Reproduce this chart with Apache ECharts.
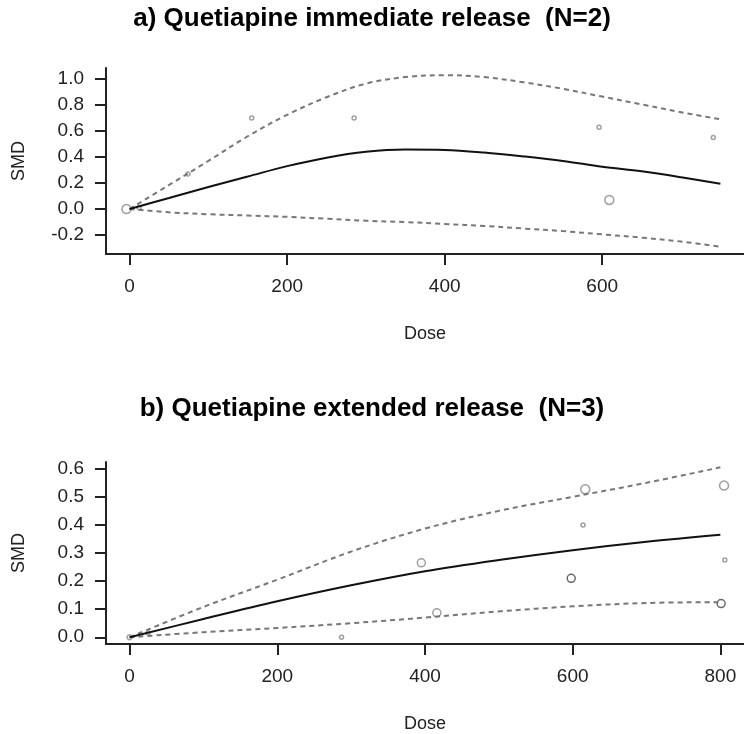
<!DOCTYPE html>
<html>
<head>
<meta charset="utf-8">
<script src="https://cdn.jsdelivr.net/npm/echarts@6/dist/echarts.min.js"></script>
<style>
  html, body { margin: 0; padding: 0; background: #fff; }
  #chart { width: 744px; height: 734px; }
</style>
</head>
<body>
<div id="chart"></div>
<script>
// panel a) immediate release: fitted curve and its limits
const doseA = [0, 50, 100, 150, 200, 250, 300, 350, 400, 450, 500, 550, 600, 650, 700, 750]
const fitA = [0, 0.085, 0.17, 0.25, 0.33, 0.395, 0.44, 0.458, 0.455, 0.435, 0.405, 0.37, 0.325, 0.29, 0.245, 0.195]
const upperA = [0, 0.185, 0.37, 0.56, 0.725, 0.86, 0.965, 1.015, 1.03, 1.015, 0.975, 0.925, 0.865, 0.805, 0.745, 0.69]
const lowerA = [0, -0.025, -0.04, -0.05, -0.06, -0.075, -0.09, -0.10, -0.115, -0.13, -0.15, -0.17, -0.195, -0.22, -0.25, -0.29]
// panel a) study points
const ptDoseA = [-4, 12, 74, 155, 285, 596, 609, 741]
const ptSmdA = [0.0, 0.01, 0.27, 0.70, 0.70, 0.63, 0.07, 0.55]
const ptSizeA = [9, 4, 4, 4, 4, 4, 9, 4]

// panel b) extended release
const doseB = [0, 100, 200, 300, 400, 500, 600, 700, 800]
const fitB = [0, 0.065, 0.128, 0.185, 0.235, 0.275, 0.31, 0.34, 0.365]
const upperB = [0, 0.108, 0.205, 0.305, 0.387, 0.45, 0.50, 0.55, 0.605]
const lowerB = [0, 0.018, 0.033, 0.05, 0.07, 0.092, 0.11, 0.122, 0.125]
const ptDoseB = [0, 25, 287, 395, 416, 598, 614, 617, 801, 805, 806]
const ptSmdB = [0, 0.015, 0.0, 0.265, 0.087, 0.21, 0.40, 0.527, 0.12, 0.54, 0.275]
const ptSizeB = [5, 4, 4, 8, 8, 8, 4, 9, 8, 9, 4]
const ptDarkB = [false, false, false, false, false, true, false, false, true, false, false]

const ticksXA = [0, 200, 400, 600]
const ticksYA = [-0.2, 0, 0.2, 0.4, 0.6, 0.8, 1.0]
const ticksXB = [0, 200, 400, 600, 800]
const ticksYB = [0, 0.1, 0.2, 0.3, 0.4, 0.5, 0.6]

const font = 'Liberation Sans, Arial, sans-serif'
const ink = '#222'

const pairs = (xs, ys) => xs.map((x, i) => [x, ys[i]])

const xAxisOf = (idx, min, max, ticks) => ({
  type: 'value',
  gridIndex: idx,
  min: min,
  max: max,
  name: 'Dose',
  nameLocation: 'middle',
  nameGap: 71,
  nameTextStyle: { fontFamily: font, fontSize: 18, color: ink },
  splitLine: { show: false },
  axisLine: { onZero: false, lineStyle: { color: ink, width: 2 } },
  axisTick: { length: 11, lineStyle: { color: ink, width: 2 }, customValues: ticks },
  axisLabel: { margin: 23, fontFamily: font, fontSize: 19, color: ink, customValues: ticks }
})

const yAxisOf = (idx, min, max, ticks) => ({
  type: 'value',
  gridIndex: idx,
  min: min,
  max: max,
  name: 'SMD',
  nameLocation: 'middle',
  nameGap: 78,
  nameTextStyle: { fontFamily: font, fontSize: 18, color: ink },
  splitLine: { show: false },
  axisLine: { onZero: false, lineStyle: { color: ink, width: 2 } },
  axisTick: { length: 11, lineStyle: { color: ink, width: 2 }, customValues: ticks },
  axisLabel: {
    margin: 22, fontFamily: font, fontSize: 19, color: ink, customValues: ticks,
    formatter: v => Number(v).toFixed(1)
  }
})

const curve = (idx, xs, ys, dashed) => ({
  type: 'line',
  xAxisIndex: idx,
  yAxisIndex: idx,
  data: pairs(xs, ys),
  smooth: 0.35,
  showSymbol: false,
  silent: true,
  lineStyle: dashed
    ? { color: '#777', width: 2, type: [5, 4] }
    : { color: '#111', width: 2 }
})

const points = (idx, xs, ys, sizes, dark) => ({
  type: 'scatter',
  xAxisIndex: idx,
  yAxisIndex: idx,
  data: xs.map((x, i) => ({
    value: [x, ys[i]],
    symbolSize: sizes[i],
    itemStyle: { color: '#fff', borderColor: dark && dark[i] ? '#444' : '#888', borderWidth: 1.5 }
  })),
  symbol: 'circle'
})

const chart = echarts.init(document.getElementById('chart'))
chart.setOption({
  animation: false,
  backgroundColor: '#fff',
  title: [
    {
      text: 'a) Quetiapine immediate release  (N=2)',
      left: 'center', top: 6, padding: 0,
      textStyle: { fontFamily: font, fontSize: 26, fontWeight: 'bold', color: '#000' }
    },
    {
      text: 'b) Quetiapine extended release  (N=3)',
      left: 'center', top: 396, padding: 0,
      textStyle: { fontFamily: font, fontSize: 26, fontWeight: 'bold', color: '#000' }
    }
  ],
  grid: [
    { left: 106, top: 68, width: 648, height: 186 },
    { left: 106, top: 462, width: 648, height: 185 }
  ],
  xAxis: [
    xAxisOf(0, -30, 780, ticksXA),
    xAxisOf(1, -32, 832, ticksXB)
  ],
  yAxis: [
    yAxisOf(0, -0.346, 1.085, ticksYA),
    yAxisOf(1, -0.024, 0.624, ticksYB)
  ],
  series: [
    curve(0, doseA, upperA, true),
    curve(0, doseA, lowerA, true),
    curve(0, doseA, fitA, false),
    points(0, ptDoseA, ptSmdA, ptSizeA, null),
    curve(1, doseB, upperB, true),
    curve(1, doseB, lowerB, true),
    curve(1, doseB, fitB, false),
    points(1, ptDoseB, ptSmdB, ptSizeB, ptDarkB)
  ]
})
</script>
</body>
</html>
